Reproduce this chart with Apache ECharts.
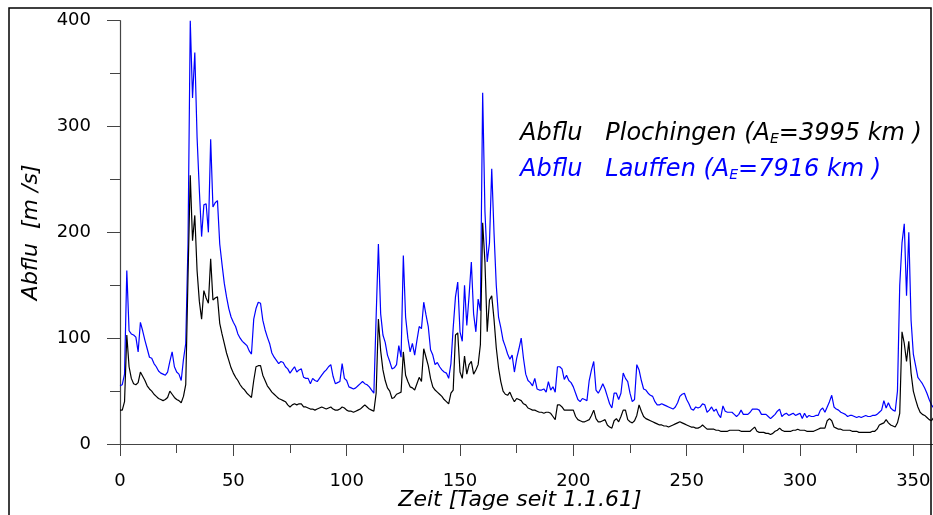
<!DOCTYPE html>
<html style="height: 100%">
<head>
<meta charset="utf-8">
<title>Abfluss Plochingen / Lauffen</title>
</head>
<body style="height: 100%; width: 100%; margin: 0; background: #fff">
<div id="container" style="height: 515px; width: 933px"></div>
<script type="text/javascript" src="https://cdn.jsdelivr.net/npm/echarts@6/dist/echarts.min.js"></script>
<script type="text/javascript">
// Tageswerte ab 1.1.61
var plochingen = [
  32,32,40,103,73,62,57,56,58,68, 64,60,55,52,50,47,45,43,42,41,
  42,44,50,47,44,42,41,39,45,56, 158,254,192,216,164,135,118,145,138,133,
  175,136,138,139,114,104,95,86,79,72, 67,63,60,56,53,51,48,46,44,60,
  73,74,74,65,60,55,52,49,47,45, 43,42,41,40,37,35,37,38,37,38,
  38,35,35,34,33,33,32,33,34,35, 34,33,34,35,33,32,32,33,35,34,
  32,31,31,30,31,32,33,35,37,35, 33,32,31,48,118,88,70,60,53,50,
  43,44,47,48,49,87,65,59,54,53, 51,57,63,59,90,82,74,62,54,51,
  49,47,45,42,40,38,48,51,103,105, 68,62,83,66,75,78,66,70,75,94,
  209,172,106,136,140,118,91,72,59,50, 47,46,49,44,40,43,42,41,38,37,
  34,33,32,32,31,30,30,29,30,30, 29,26,23,37,37,35,32,32,32,32,
  32,26,23,22,21,21,22,23,27,32, 24,21,21,22,23,18,16,15,22,24,
  21,26,32,32,23,21,20,22,27,37, 31,26,24,23,22,21,20,19,18,18,
  17,17,16,17,18,19,20,21,20,19, 18,17,16,16,15,15,16,18,16,14,
  14,14,14,13,13,12,12,12,12,13, 13,13,13,13,12,12,12,12,12,14,
  16,12,11,11,11,10,10,9,10,12, 13,15,13,12,12,12,12,13,13,14,
  13,13,13,12,12,12,12,13,14,15, 15,15,22,24,22,16,15,14,14,13,
  13,13,13,12,12,12,11,11,11,11, 11,11,12,12,14,18,19,20,23,20,
  18,17,16,20,29,106,95,78,97,67, 50,42,35,30,28,27,25,23,22,25
];
var lauffen = [
  55,56,66,164,107,104,103,101,87,115, 107,98,90,82,81,76,73,69,67,66,
  65,68,78,87,73,68,66,60,80,95, 189,400,327,370,290,240,196,226,227,200,
  288,224,228,230,189,170,152,139,128,120, 115,111,104,100,97,95,93,88,85,118,
  128,134,133,117,108,101,95,86,82,79, 76,78,77,73,71,67,70,73,68,70,
  71,63,62,62,57,62,60,59,62,65, 68,70,73,75,64,57,58,59,76,62,
  60,54,53,52,53,55,57,59,57,56, 54,51,48,120,189,123,103,96,84,78,
  71,72,75,93,82,178,120,100,87,95, 84,98,111,109,134,122,111,89,84,75,
  77,73,70,68,67,62,76,110,139,153, 106,97,150,112,140,172,123,106,137,126,
  332,220,172,190,260,200,150,120,110,98, 92,85,80,84,68,81,90,100,81,66,
  60,58,55,62,52,51,51,52,49,59, 51,54,49,73,73,71,61,65,60,58,
  54,48,42,40,43,42,41,60,70,78, 51,48,52,57,52,45,38,34,48,48,
  42,48,67,62,59,48,40,42,75,70, 60,52,51,48,46,45,40,37,37,38,
  37,36,35,34,33,35,39,45,47,48, 42,38,33,32,35,34,35,38,37,30,
  32,35,31,33,28,25,36,31,30,30, 30,28,26,28,32,28,28,28,30,33,
  33,33,32,28,28,28,26,24,26,28, 31,33,26,28,29,27,28,29,27,28,
  29,24,29,25,27,26,26,27,27,32, 34,30,35,40,46,35,33,32,30,29,
  28,26,27,27,26,25,26,25,26,27, 26,26,27,27,28,30,32,41,34,39,
  34,32,31,50,150,190,208,140,200,117, 85,74,63,60,57,53,48,42,37,34
];
var xTicks = { min: 0, max: 360, interval: 50 };
var yTicks = { min: 0, max: 400, interval: 100 };

function pairs(arr) {
  return arr.map(function (v, i) { return [i, v]; });
}

var dom = document.getElementById('container');
var myChart = echarts.init(dom, null, { renderer: 'canvas' });
var font = 'DejaVu Sans, Arial, sans-serif';
var axisCol = '#444';

var option = {
  animation: false,
  backgroundColor: '#fff',
  textStyle: { fontFamily: font },
  grid: { left: 120, top: 20.7, width: 816, height: 423.3, containLabel: false, outerBoundsMode: 'none' },
  xAxis: {
    type: 'value',
    min: xTicks.min, max: xTicks.max, interval: xTicks.interval,
    name: 'Zeit [Tage seit 1.1.61]',
    nameLocation: 'middle',
    nameGap: 45,
    nameMoveOverlap: false,
    nameTextStyle: { fontSize: 22, fontStyle: 'italic', color: '#000', fontFamily: font, padding: [0, 16, 0, 0] },
    axisLine: { onZero: false, lineStyle: { color: axisCol, width: 1.2 } },
    axisTick: { length: 12, lineStyle: { color: axisCol } },
    minorTick: { show: true, splitNumber: 2, length: 9, lineStyle: { color: axisCol } },
    axisLabel: { margin: 28, fontSize: 18, color: '#000', fontFamily: font,
      formatter: function (v) { return v > 355 ? '' : v; } },
    splitLine: { show: false }
  },
  yAxis: {
    type: 'value',
    min: yTicks.min, max: yTicks.max, interval: yTicks.interval,
    name: 'Abflu  [m /s]',
    nameLocation: 'middle',
    nameGap: 78,
    nameMoveOverlap: false,
    nameTextStyle: { fontSize: 22, fontStyle: 'italic', color: '#000', fontFamily: font },
    axisLine: { show: true, lineStyle: { color: axisCol, width: 1.2 } },
    axisTick: { length: 13, lineStyle: { color: axisCol } },
    minorTick: { show: true, splitNumber: 2, length: 10, lineStyle: { color: axisCol } },
    axisLabel: { margin: 29, fontSize: 18, color: '#000', fontFamily: font },
    splitLine: { show: false }
  },
  series: [
    {
      name: 'Lauffen', type: 'line', data: pairs(lauffen),
      showSymbol: false, clip: true,
      lineStyle: { color: '#0000ff', width: 1.2 }, itemStyle: { color: '#0000ff' }
    },
    {
      name: 'Plochingen', type: 'line', data: pairs(plochingen),
      showSymbol: false, clip: true,
      lineStyle: { color: '#000', width: 1.2 }, itemStyle: { color: '#000' }
    }
  ],
  graphic: [
    {
      type: 'rect', silent: true, z: 100,
      shape: { x: 9, y: 8, width: 922, height: 530 },
      style: { fill: null, stroke: '#000', lineWidth: 1.5 }
    },
    {
      type: 'text', left: 520, top: 122, z: 100,
      style: {
        text: '{t|Abflu   Plochingen (A}{s|E}{t|=3995 km )}',
        rich: {
          t: { fontSize: 24, fontStyle: 'italic', fill: '#000', fontFamily: font },
          s: { fontSize: 14, fontStyle: 'italic', fill: '#000', fontFamily: font, verticalAlign: 'bottom', padding: [10, 0, 0, 0] }
        }
      }
    },
    {
      type: 'text', left: 520, top: 158, z: 100,
      style: {
        text: '{t|Abflu   Lauffen (A}{s|E}{t|=7916 km )}',
        rich: {
          t: { fontSize: 24, fontStyle: 'italic', fill: '#0000ff', fontFamily: font },
          s: { fontSize: 14, fontStyle: 'italic', fill: '#0000ff', fontFamily: font, verticalAlign: 'bottom', padding: [10, 0, 0, 0] }
        }
      }
    }
  ]
};
myChart.setOption(option);
</script>
</body>
</html>
